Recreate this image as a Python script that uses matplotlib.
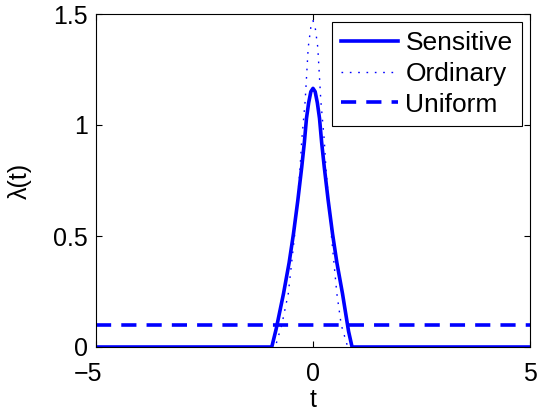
import numpy as np
import matplotlib.pyplot as plt
from matplotlib.transforms import ScaledTranslation

plt.rcParams['font.family'] = ['Liberation Sans', 'DejaVu Sans']

# sensitive curve
t_sens = [-5, -0.95, -0.85, -0.68, -0.55, -0.45, -0.35, -0.26, -0.2, -0.15, -0.1, -0.05, 0,
          0.05, 0.1, 0.15, 0.2, 0.26, 0.35, 0.45, 0.55, 0.68, 0.82, 0.9, 5]
v_sens = [0, 0, 0.08, 0.24, 0.38, 0.51, 0.66, 0.81, 0.92, 1.03, 1.10, 1.15, 1.165,
          1.15, 1.10, 1.03, 0.92, 0.81, 0.66, 0.51, 0.38, 0.24, 0.07, 0, 0]

# ordinary curve
t_ord = [-5, -0.87, -0.72, -0.57, -0.42, -0.3, -0.26, -0.18, -0.11, -0.05, 0,
         0.05, 0.11, 0.18, 0.26, 0.3, 0.42, 0.55, 0.65, 0.8, 5]
v_ord = [0, 0, 0.1, 0.24, 0.51, 0.80, 0.93, 1.11, 1.35, 1.44, 1.47,
         1.44, 1.35, 1.11, 0.93, 0.80, 0.51, 0.24, 0.1, 0, 0]

# uniform
t_uni = [-5, 5]
v_uni = [0.1, 0.1]

fig = plt.figure(figsize=(5.42, 4.12), dpi=100)
ax = fig.add_axes([96/542, 1 - 347/412, 434/542, 333/412])

ax.plot(t_sens, v_sens, '-', color='b', lw=2.6, label='Sensitive')
ax.plot(t_ord, v_ord, ':', color='b', lw=1.0, dashes=(1.2, 4.8), label='Ordinary')
ax.plot(t_uni, v_uni, '--', color='b', lw=2.6, dashes=(4.2, 2.8), label='Uniform')

ax.set_xlim(-5, 5)
ax.set_ylim(0, 1.5)
ax.set_xticks([-5, 0, 5])
ax.set_xticklabels(['\u22125', '0', '5'])
ax.set_yticks([0, 0.5, 1, 1.5])
ax.set_yticklabels(['0', '0.5', '1', '1.5'])
ax.tick_params(direction='in', labelsize=18, length=4, width=0.8, top=True, right=True)
ax.tick_params(axis='x', pad=11)
ax.tick_params(axis='y', pad=6)
for s in ax.spines.values():
    s.set_linewidth(0.8)
ax.set_xlabel('t', fontsize=18, labelpad=1)
ax.set_ylabel('\u03bb(t)', fontsize=18, labelpad=15)

# matlab puts the -5 a bit to the left
lab = ax.get_xticklabels()[0]
lab.set_transform(lab.get_transform() + ScaledTranslation(-8/100, 0, fig.dpi_scale_trans))

leg = ax.legend(loc='upper right', fontsize=19, fancybox=False, edgecolor='k',
                framealpha=1, borderpad=0.34, labelspacing=0.25, handlelength=2.15,
                handletextpad=0.28, borderaxespad=0.32)
leg.get_frame().set_linewidth(0.8)

fig.savefig('out.png', dpi=100)
